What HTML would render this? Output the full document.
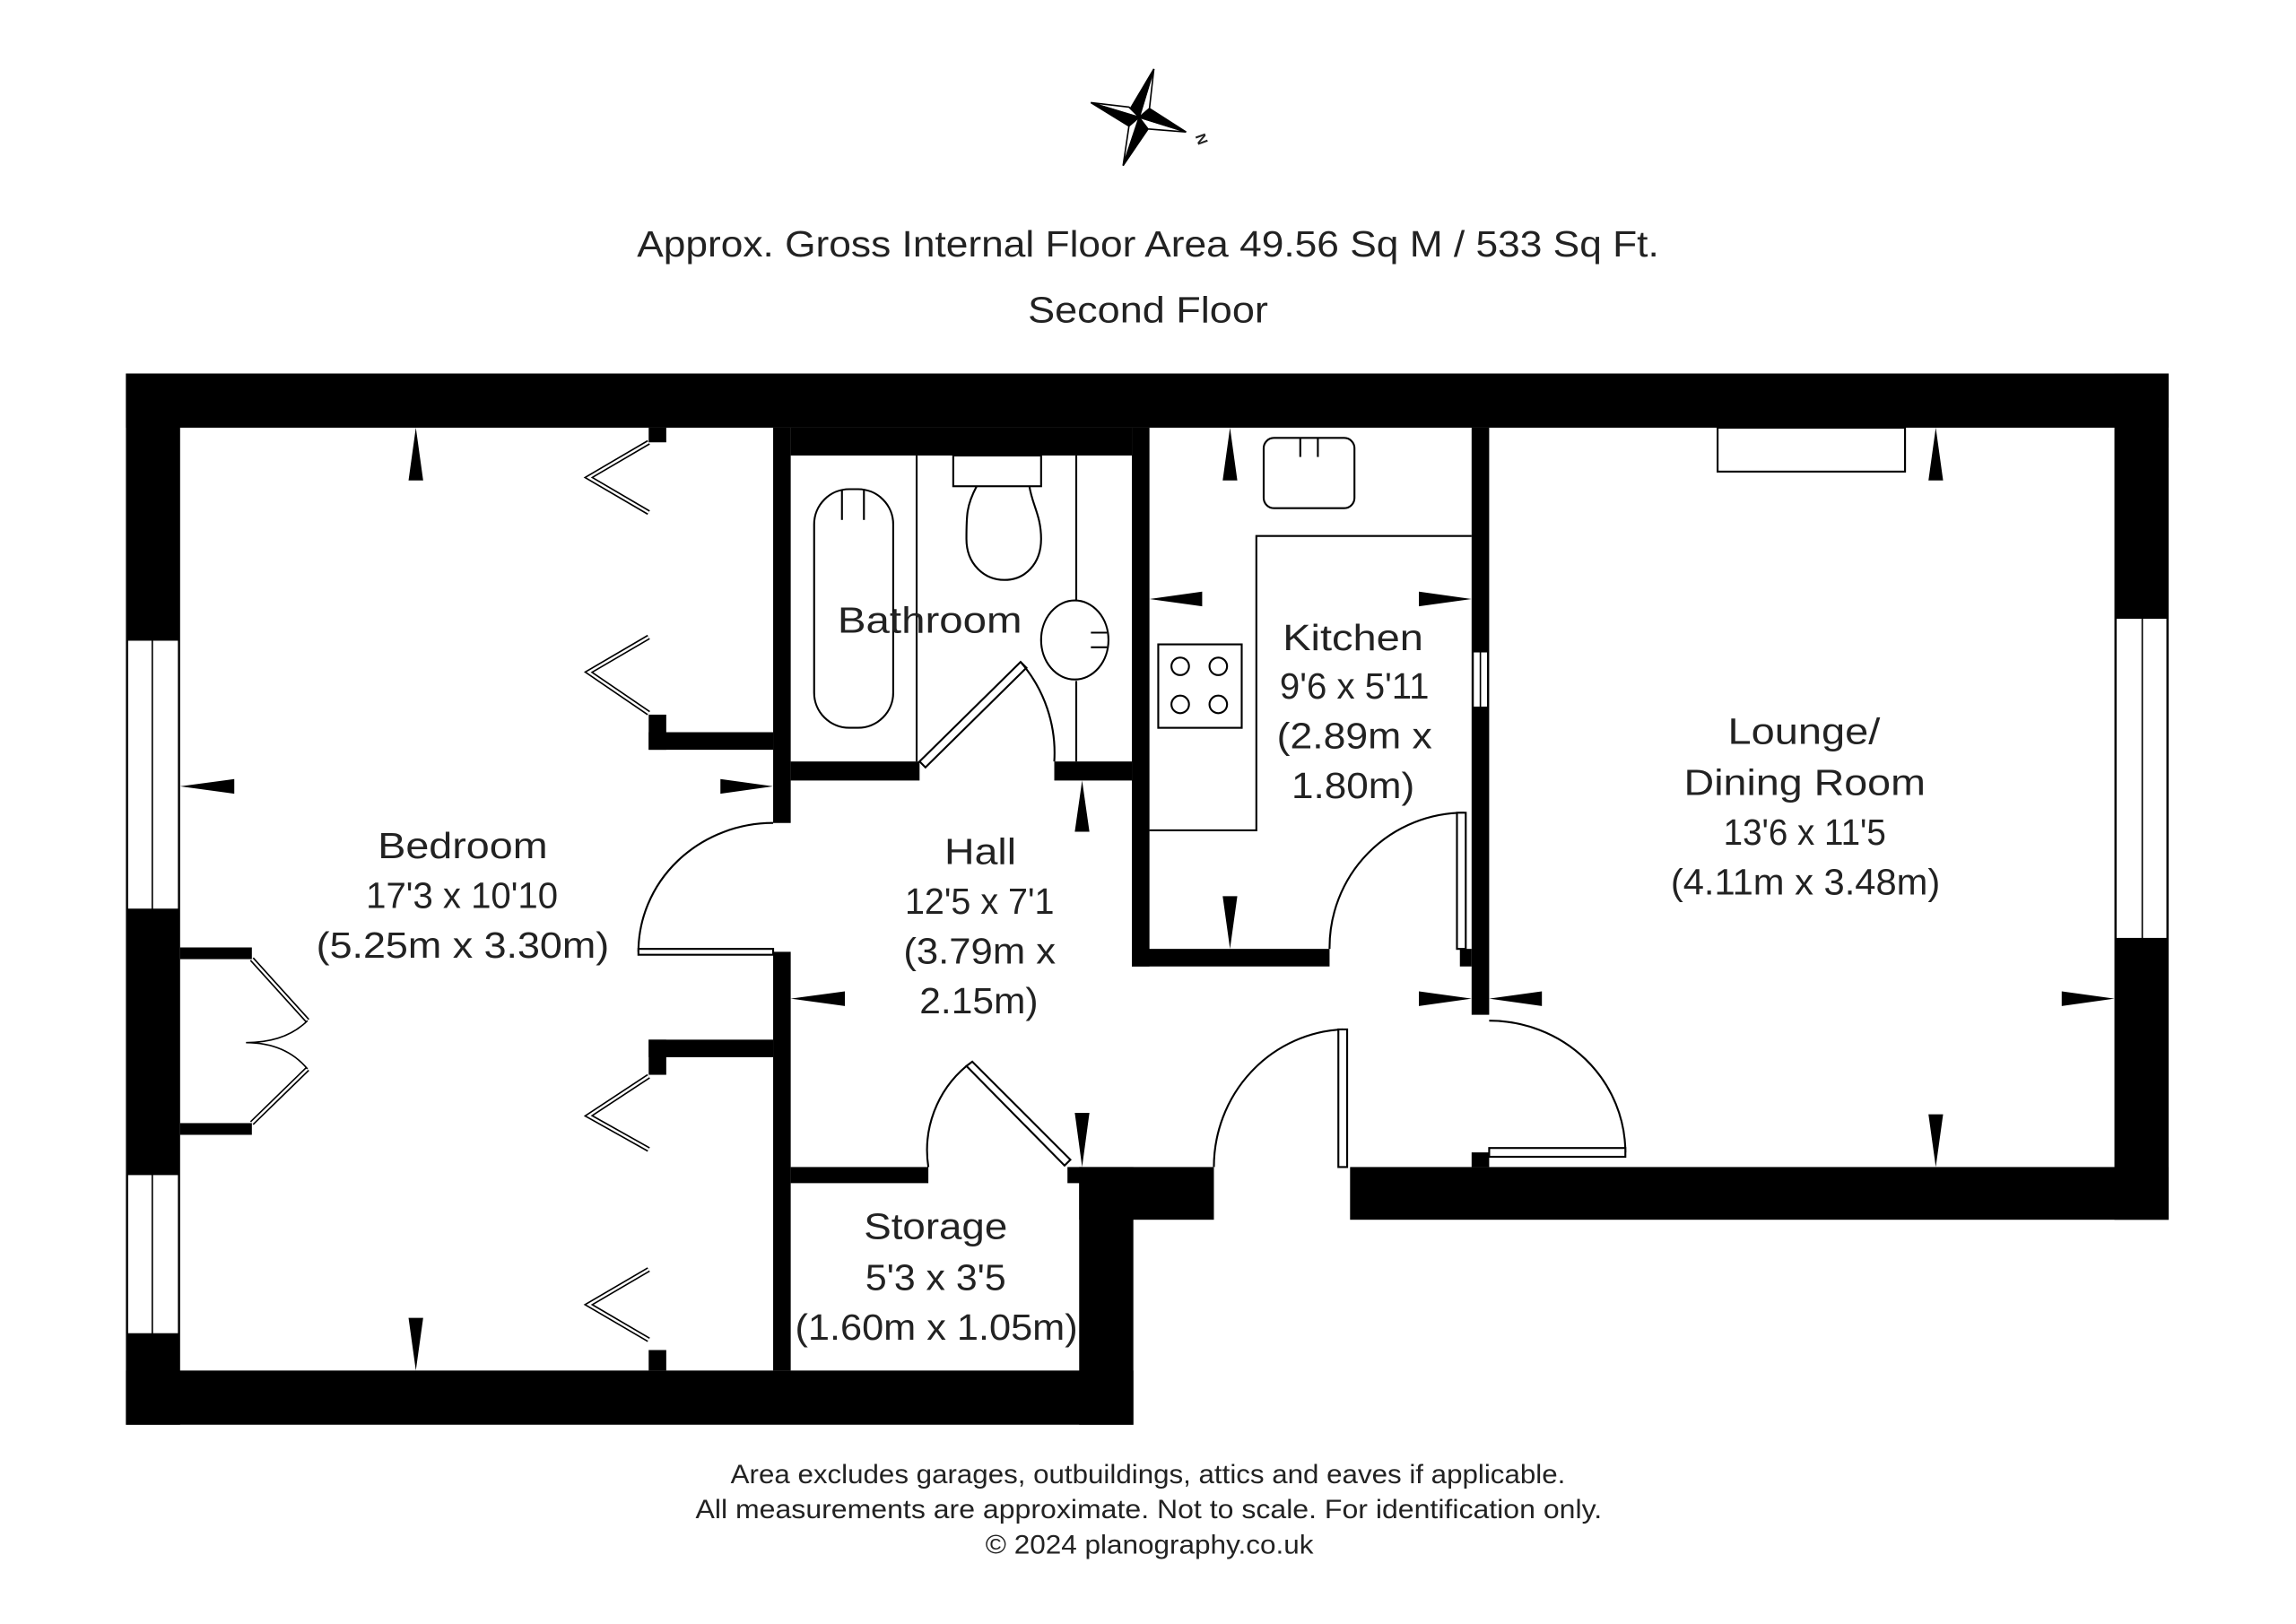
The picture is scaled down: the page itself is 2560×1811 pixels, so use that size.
<!DOCTYPE html>
<html><head><meta charset="utf-8"><style>
html,body{margin:0;padding:0;background:#fff;}
svg{display:block;}
text{font-family:"Liberation Sans",sans-serif;fill:#222;}
</style></head><body>
<svg width="2560" height="1811" viewBox="0 0 1568 1109" xmlns="http://www.w3.org/2000/svg">
<rect width="1568" height="1109" fill="#fff"/>
<!-- compass -->
<g stroke="#000" stroke-width="1" fill="#fff">
<polygon points="778,80 788,47 785,74"/><polygon points="778,80 788,47 772,74" fill="#000"/>
<polygon points="778,80 745,70 771,73"/><polygon points="778,80 745,70 771,86" fill="#000"/>
<polygon points="778,80 767,113 771,86"/><polygon points="778,80 767,113 784,88" fill="#000"/>
<polygon points="778,80 810,90 784,88"/><polygon points="778,80 810,90 785,74" fill="#000"/>
</g>
<text x="818" y="94" font-size="10" font-weight="bold" transform="rotate(70 818 92)">N</text>
<text x="435" y="175" font-size="25" textLength="698" lengthAdjust="spacingAndGlyphs">Approx. Gross Internal Floor Area 49.56 Sq M / 533 Sq Ft.</text>
<text x="702" y="220" font-size="25" textLength="164" lengthAdjust="spacingAndGlyphs">Second Floor</text>

<!-- walls -->
<g fill="#000">
<rect x="86" y="255" width="1395" height="37"/>
<rect x="86" y="255" width="37" height="718"/>
<rect x="86" y="936" width="688" height="37"/>
<rect x="737" y="797" width="37" height="176"/>
<rect x="737" y="797" width="92" height="36"/>
<rect x="729" y="797" width="10" height="11"/>
<rect x="922" y="797" width="559" height="36"/>
<rect x="1444" y="255" width="37" height="578"/>
<rect x="528" y="292" width="12" height="270"/>
<rect x="528" y="650" width="12" height="286"/>
<rect x="443" y="292" width="12" height="10"/>
<rect x="443" y="488" width="12" height="24"/>
<rect x="443" y="500" width="85" height="12"/>
<rect x="443" y="710" width="12" height="24"/>
<rect x="443" y="710" width="85" height="12"/>
<rect x="443" y="922" width="12" height="14"/>
<rect x="123" y="647" width="49" height="8"/>
<rect x="123" y="767" width="49" height="8"/>
<rect x="540" y="292" width="233" height="19"/>
<rect x="773" y="292" width="12" height="368"/>
<rect x="540" y="520" width="88" height="13"/>
<rect x="720" y="520" width="53" height="13"/>
<rect x="773" y="648" width="135" height="12"/>
<rect x="1005" y="292" width="12" height="401"/>
<rect x="1005" y="787" width="12" height="10"/>
<rect x="997" y="648" width="8" height="12"/>
<rect x="540" y="797" width="94" height="11"/>
</g>
<!-- windows -->
<g fill="#fff" stroke="#000" stroke-width="1">
<rect x="87" y="437" width="35" height="184"/><line x1="104" y1="437" x2="104" y2="621"/>
<rect x="87" y="802" width="35" height="109"/><line x1="104" y1="802" x2="104" y2="911"/>
<rect x="1445" y="422" width="35" height="219"/><line x1="1463" y1="422" x2="1463" y2="641"/>
<rect x="1006" y="445" width="10" height="38"/><line x1="1011" y1="445" x2="1011" y2="483"/>
</g>
<!-- doors, fixtures -->
<g fill="none" stroke="#000" stroke-width="1.3">
<path d="M436,650 A92,88 0 0 1 528,562"/>
<rect x="436" y="648" width="92" height="4" fill="#fff"/>
<path d="M634,797 A75,75 0 0 1 660,728"/>
<polygon points="660,728 664,725 731,792 727,796" fill="#fff"/>
<path d="M628,520 L697,452 L701,456 L632,524 Z" fill="#fff"/>
<path d="M697,452 A95,95 0 0 1 720,520"/>
<path d="M829,797 A92,94 0 0 1 917,703"/>
<rect x="914" y="703" width="6" height="94" fill="#fff"/>
<path d="M908,648 A92,92 0 0 1 1000,555"/>
<rect x="995" y="555" width="6" height="93" fill="#fff"/>
<path d="M1017,697 A93,90 0 0 1 1110,787"/>
<rect x="1017" y="784" width="93" height="6" fill="#fff"/>
<rect x="556" y="334" width="54" height="163" rx="24"/>
<line x1="575" y1="334" x2="575" y2="355"/><line x1="590" y1="334" x2="590" y2="355"/>
<line x1="626" y1="311" x2="626" y2="520"/>
<line x1="735" y1="311" x2="735" y2="410"/><line x1="735" y1="465" x2="735" y2="520"/>
<rect x="651" y="311" width="60" height="21"/>
<path d="M667,332 C660,345 660,352 660,368 C660,385 672,396 686,396 C700,396 711,385 711,368 C711,352 705,345 703,332"/>
<ellipse cx="734" cy="437" rx="23" ry="27"/>
<line x1="745" y1="432" x2="756" y2="432"/><line x1="745" y1="442" x2="756" y2="442"/>
<rect x="863" y="299" width="62" height="48" rx="7"/>
<line x1="888" y1="299" x2="888" y2="312"/><line x1="900" y1="299" x2="900" y2="312"/>
<polyline points="785,567 858,567 858,366 1005,366"/>
<rect x="791" y="440" width="57" height="57"/>
<circle cx="806" cy="455" r="6"/><circle cx="832" cy="455" r="6"/>
<circle cx="806" cy="481" r="6"/><circle cx="832" cy="481" r="6"/>
<rect x="1173" y="292" width="128" height="30"/>
</g>
<g fill="none" stroke="#000" stroke-width="3.5">
<polyline points="443,302 402,326 443,350"/><polyline points="443,435 402,459 443,487"/>
<polyline points="443,735 402,762 443,785"/><polyline points="443,867 402,891 443,915"/>
<polyline points="172,655 210,697"/><polyline points="172,767 210,730"/>
</g>
<g fill="none" stroke="#fff" stroke-width="1.5">
<polyline points="443,302 402,326 443,350"/><polyline points="443,435 402,459 443,487"/>
<polyline points="443,735 402,762 443,785"/><polyline points="443,867 402,891 443,915"/>
<polyline points="172,655 210,697"/><polyline points="172,767 210,730"/>
</g>
<g fill="none" stroke="#000" stroke-width="1">
<path d="M210,697 Q195,712 168,712 Q195,712 210,730"/>
</g>
<g fill="#000">
<polygon points="284,292 279,328 289,328"/><polygon points="284,936 279,900 289,900"/>
<polygon points="123,537 160,532 160,542"/><polygon points="528,537 492,532 492,542"/>
<polygon points="540,682 577,677 577,687"/><polygon points="739,533 734,568 744,568"/>
<polygon points="739,797 734,760 744,760"/>
<polygon points="840,292 835,328 845,328"/><polygon points="840,648 835,612 845,612"/>
<polygon points="785,409 821,404 821,414"/><polygon points="1005,409 969,404 969,414"/>
<polygon points="1005,682 969,677 969,687"/><polygon points="1017,682 1053,677 1053,687"/>
<polygon points="1322,292 1317,328 1327,328"/><polygon points="1322,797 1317,761 1327,761"/>
<polygon points="1444,682 1408,677 1408,687"/>
</g>
<!-- labels -->
<g font-size="25">
<text x="258" y="586" textLength="116" lengthAdjust="spacingAndGlyphs">Bedroom</text>
<text x="250" y="620" textLength="131" lengthAdjust="spacingAndGlyphs">17'3 x 10'10</text>
<text x="216" y="654" textLength="200" lengthAdjust="spacingAndGlyphs">(5.25m x 3.30m)</text>
<text x="572" y="432" textLength="126" lengthAdjust="spacingAndGlyphs">Bathroom</text>
<text x="876" y="444" textLength="96" lengthAdjust="spacingAndGlyphs">Kitchen</text>
<text x="874" y="477" textLength="102" lengthAdjust="spacingAndGlyphs">9'6 x 5'11</text>
<text x="872" y="511" textLength="106" lengthAdjust="spacingAndGlyphs">(2.89m x</text>
<text x="882" y="545" textLength="84" lengthAdjust="spacingAndGlyphs">1.80m)</text>
<text x="645" y="590" textLength="49" lengthAdjust="spacingAndGlyphs">Hall</text>
<text x="618" y="624" textLength="102" lengthAdjust="spacingAndGlyphs">12'5 x 7'1</text>
<text x="617" y="658" textLength="104" lengthAdjust="spacingAndGlyphs">(3.79m x</text>
<text x="628" y="692" textLength="81" lengthAdjust="spacingAndGlyphs">2.15m)</text>
<text x="1180" y="508" textLength="104" lengthAdjust="spacingAndGlyphs">Lounge/</text>
<text x="1150" y="543" textLength="165" lengthAdjust="spacingAndGlyphs">Dining Room</text>
<text x="1177" y="577" textLength="111" lengthAdjust="spacingAndGlyphs">13'6 x 11'5</text>
<text x="1141" y="611" textLength="184" lengthAdjust="spacingAndGlyphs">(4.11m x 3.48m)</text>
<text x="590" y="846" textLength="98" lengthAdjust="spacingAndGlyphs">Storage</text>
<text x="591" y="881" textLength="96" lengthAdjust="spacingAndGlyphs">5'3 x 3'5</text>
<text x="543" y="915" textLength="193" lengthAdjust="spacingAndGlyphs">(1.60m x 1.05m)</text>
</g>
<g font-size="18">
<text x="499" y="1013" textLength="570" lengthAdjust="spacingAndGlyphs">Area excludes garages, outbuildings, attics and eaves if applicable.</text>
<text x="475" y="1037" textLength="619" lengthAdjust="spacingAndGlyphs">All measurements are approximate. Not to scale. For identification only.</text>
<text x="673" y="1061" textLength="224" lengthAdjust="spacingAndGlyphs">© 2024 planography.co.uk</text>
</g>
</svg>
</body></html>
